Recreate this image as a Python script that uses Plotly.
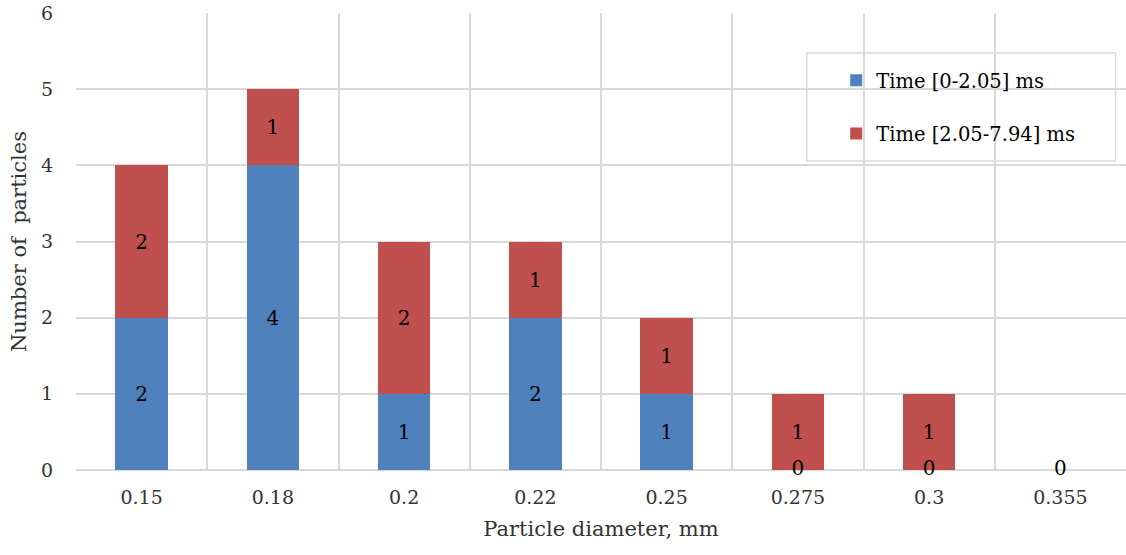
import plotly.graph_objects as go

# Particle size distribution, split by time window
diameters = ["0.15", "0.18", "0.2", "0.22", "0.25", "0.275", "0.3", "0.355"]
early_counts = [2, 4, 1, 2, 1, 0, 0, 0]   # Time [0-2.05] ms
late_counts = [2, 1, 2, 1, 1, 1, 1, 0]    # Time [2.05-7.94] ms
y_ticks = [0, 1, 2, 3, 4, 5, 6]

BLUE = "#4F81BD"
RED = "#C0504D"
GRID = "#D9D9D9"
FONT = "DejaVu Serif"
TXT = "#333333"

xpos = list(range(len(diameters)))

fig = go.Figure()

fig.add_trace(go.Bar(
    x=xpos, y=early_counts, name="Time [0-2.05] ms",
    marker=dict(color=BLUE, line=dict(width=0)),
    text=[str(v) if v else "" for v in early_counts],
    textposition="inside", insidetextanchor="middle",
    textfont=dict(family=FONT, size=20, color="black"),
    legendgroup="a", width=0.4,
))
fig.add_trace(go.Bar(
    x=xpos, y=late_counts, name="Time [2.05-7.94] ms",
    marker=dict(color=RED, line=dict(width=0)),
    text=[str(v) if v else "" for v in late_counts],
    textposition="inside", insidetextanchor="middle",
    textfont=dict(family=FONT, size=20, color="black"),
    legendgroup="b", width=0.4,
))

# zero-valued bars still carry a "0" label on the baseline
zero_x = [x for x, e in zip(xpos, early_counts) if e == 0]
zero_t = [str(e) for e in early_counts if e == 0]
fig.add_trace(go.Scatter(
    x=zero_x, y=[0] * len(zero_x), mode="text", text=zero_t,
    textposition="middle center",
    textfont=dict(family=FONT, size=20, color="black"),
    showlegend=False, hoverinfo="skip", cliponaxis=False,
))

# legend frame drawn as a paper-space rectangle so it can have extra padding
fig.add_shape(
    type="rect", xref="paper", yref="paper",
    x0=0.696, x1=0.990, y0=0.676, y1=0.9125,
    line=dict(color=GRID, width=1.5), fillcolor="white", layer="below",
)

fig.update_layout(
    barmode="stack",
    width=1126, height=555,
    margin=dict(l=76, r=0, t=13, b=85),
    paper_bgcolor="white", plot_bgcolor="white",
    font=dict(family=FONT, size=20, color=TXT),
    showlegend=True,
    legend=dict(
        x=0.724, y=0.895, xanchor="left", yanchor="top",
        borderwidth=0, bgcolor="rgba(0,0,0,0)",
        font=dict(family=FONT, size=19.5, color="black"),
        traceorder="grouped", tracegroupgap=25,
    ),
    xaxis=dict(
        range=[-0.5, len(diameters) - 0.5],
        tickmode="array", tickvals=xpos, ticktext=diameters,
        showgrid=False, zeroline=False,
        ticks="outside", ticklen=10, tickcolor="rgba(0,0,0,0)",
        tickfont=dict(family=FONT, size=19, color=TXT),
        minor=dict(tick0=-0.5, dtick=1, showgrid=True, gridcolor=GRID, gridwidth=1.5),
        title=dict(text="Particle diameter, mm", standoff=14,
                   font=dict(family=FONT, size=21, color=TXT)),
        showline=False,
    ),
    yaxis=dict(
        range=[0, 6], tickvals=y_ticks,
        showgrid=True, gridcolor=GRID, gridwidth=1.5,
        zeroline=True, zerolinecolor=GRID, zerolinewidth=1.5,
        ticks="outside", ticklen=18, tickcolor="rgba(0,0,0,0)",
        tickfont=dict(family=FONT, size=19, color=TXT),
        title=dict(text="Number of\u00a0 particles", standoff=8,
                   font=dict(family=FONT, size=21, color=TXT)),
    ),
)

fig.write_html("out.html")
